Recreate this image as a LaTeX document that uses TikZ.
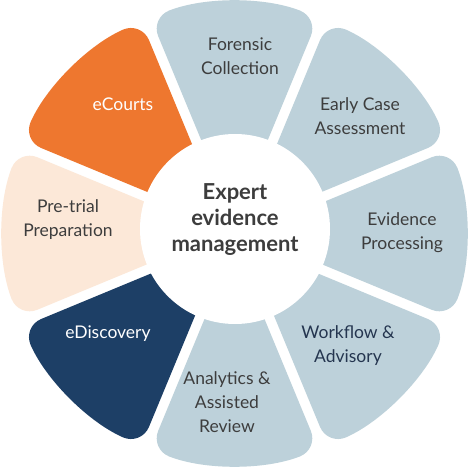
\documentclass[tikz,border=0pt]{standalone}
\usepackage{fontspec}
\setmainfont{Lato}
\definecolor{segblue}{HTML}{BDD1DA}
\definecolor{segorange}{HTML}{EE772F}
\definecolor{segnavy}{HTML}{1D3F66}
\definecolor{segpeach}{HTML}{FCE8D8}
\definecolor{txtgray}{HTML}{3D3D3D}
\definecolor{txtnavy}{HTML}{24354F}
\newcommand{\ringseg}[2]{%
  \fill[#2, rounded corners=20pt]
    ({#1-22.5+4.78}:60) -- ({#1-22.5+1.24}:231.5)
    arc[start angle={#1-22.5+1.24}, end angle={#1+22.5-1.24}, radius=231.5]
    -- ({#1+22.5-4.78}:60) -- cycle;}
\tikzset{
  lbl/.style={align=center, font=\fontsize{17.5}{24}\selectfont, text=txtgray, inner sep=0pt},
  lblw/.style={lbl, text=white},
  ctr/.style={align=center, font=\fontsize{22}{26}\selectfont\bfseries, text=txtgray, inner sep=0pt}
}
\begin{document}
\begin{tikzpicture}[x=1pt,y=1pt]
\useasboundingbox (-234.5,-234.5) rectangle (235.5,233.5);
\fill[white] (-234.5,-234.5) rectangle (235.5,233.5);
\ringseg{90}{segblue}
\ringseg{45}{segblue}
\ringseg{0}{segblue}
\ringseg{-45}{segblue}
\ringseg{-90}{segblue}
\ringseg{-135}{segnavy}
\ringseg{180}{segpeach}
\ringseg{135}{segorange}
\fill[white] (0.5,4.5) circle[radius=95];
\node[ctr] (center) at (0.5,14) {Expert\\evidence\\management};
\node[lbl] (forensic) at (5.5,177.5) {Forensic\\Collection};
\node[lbl] (early) at (125.5,117) {Early Case\\Assessment};
\node[lbl] (processing) at (167.5,0.5) {Evidence\\Processing};
\node[lbl, text=txtnavy] (workflow) at (113.5,-112.5) {Workflow \&\\Advisory};
\node[lbl] (analytics) at (-7.5,-169) {Analytics \&\\Assisted\\Review};
\node[lblw] (ediscovery) at (-126.5,-100.5) {eDiscovery};
\node[lbl] (pretrial) at (-166.5,13.5) {Pre-trial\\Preparation};
\node[lblw] (ecourts) at (-111.5,129.5) {eCourts};
\end{tikzpicture}
\end{document}
